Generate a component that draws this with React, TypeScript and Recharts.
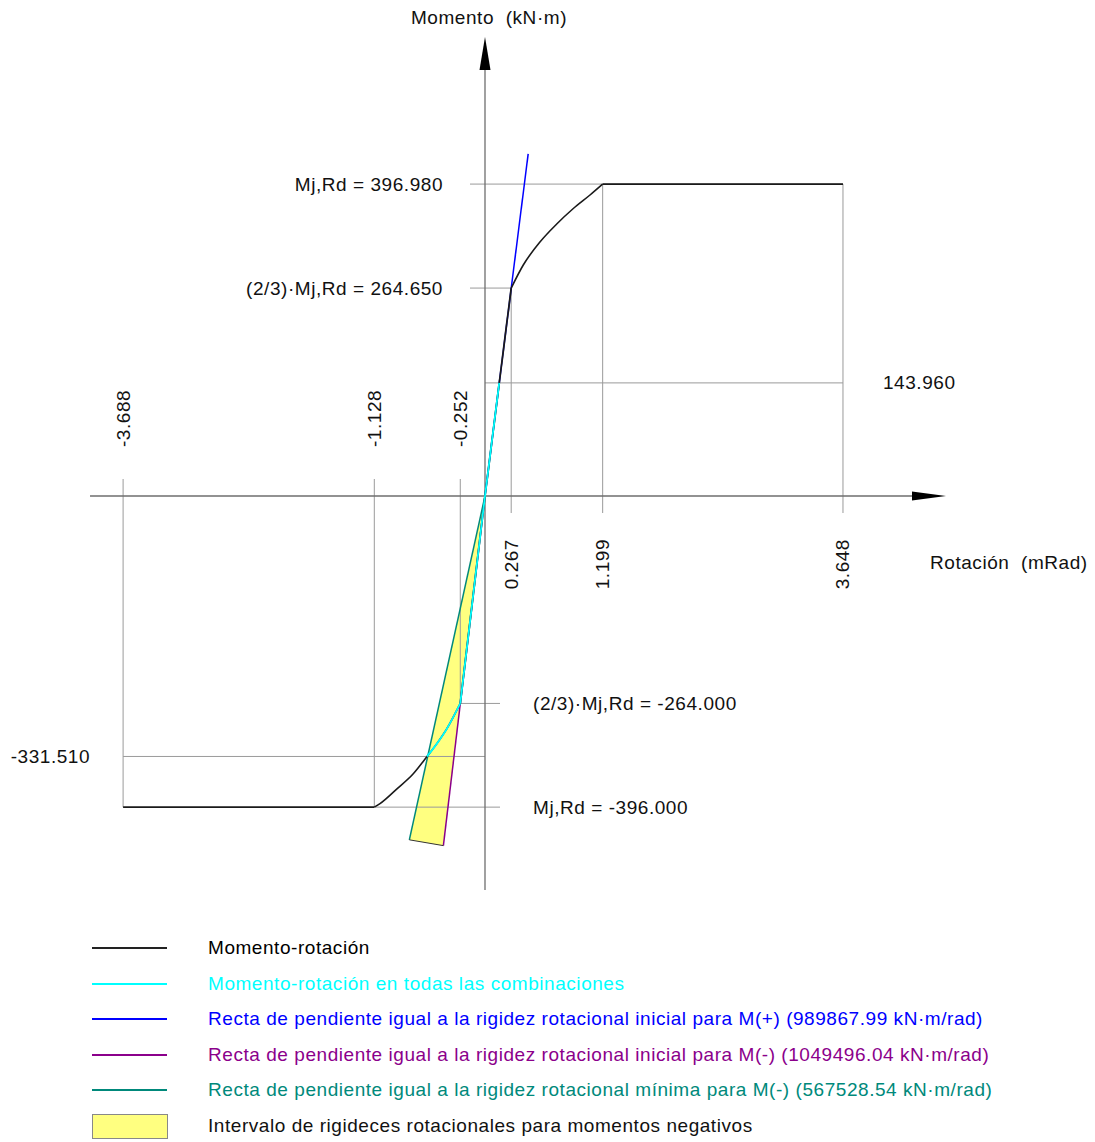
import {
  ComposedChart,
  Area,
  Line,
  XAxis,
  YAxis,
  ReferenceLine,
  ReferenceDot,
} from "recharts";

// rotation values marked on the x axis (mRad)
const rotNeg = [-3.688, -1.128, -0.252];
const rotPos = [0.267, 1.199, 3.648];

// moment levels (kN·m)
const mjRdPos = 396.98;
const mj23Pos = 264.65;
const mAllPos = 143.96;
const mj23Neg = -264.0;
const mAllNeg = -331.51;
const mjRdNeg = -396.0;

// moment-rotation curve
const blackPosLinear = [
  { x: 0, y: 0 },
  { x: 0.267, y: 264.65 },
];
const blackPosCurve = [
  { x: 0.267, y: 264.65 },
  { x: 0.39, y: 294.0 },
  { x: 0.56, y: 323.3 },
  { x: 0.731, y: 346.2 },
  { x: 0.9, y: 365.9 },
  { x: 1.07, y: 383.1 },
  { x: 1.199, y: 396.98 },
];
const blackPosFlat = [
  { x: 1.199, y: 396.98 },
  { x: 3.648, y: 396.98 },
];
const blackNegLinear = [
  { x: -0.252, y: -264.0 },
  { x: 0, y: 0 },
];
const blackNegCurve = [
  { x: -1.128, y: -396.0 },
  { x: -1.07, y: -391.5 },
  { x: -0.9, y: -373.0 },
  { x: -0.731, y: -353.5 },
  { x: -0.591, y: -331.51 },
  { x: -0.492, y: -315.5 },
  { x: -0.39, y: -296.5 },
  { x: -0.252, y: -264.0 },
];
const blackNegFlat = [
  { x: -3.688, y: -396.0 },
  { x: -1.128, y: -396.0 },
];

// all combinations
const cyanLinear = [
  { x: -0.252, y: -264.0 },
  { x: 0, y: 0 },
  { x: 0.145, y: 143.96 },
];
const cyanCurve = [
  { x: -0.591, y: -331.51 },
  { x: -0.492, y: -315.5 },
  { x: -0.39, y: -296.5 },
  { x: -0.252, y: -264.0 },
];

// stiffness lines
const bluePos = [
  { x: 0, y: 0 },
  { x: 0.44, y: 435.5 },
];
const purpleNeg = [
  { x: -0.424, y: -445.0 },
  { x: 0, y: 0 },
];
const tealNeg = [
  { x: -0.771, y: -437.6 },
  { x: 0, y: 0 },
];
const bandBottom = [
  { x: -0.771, y: -437.6 },
  { x: -0.424, y: -445.0 },
];
const bandData = [
  { x: -0.771, band: [-437.6, -437.6] },
  { x: -0.424, band: [-445.0, -240.6] },
  { x: 0, band: [0, 0] },
];

const legendItems = [
  { label: "Momento-rotación", color: "#222222", text: "#000000" },
  { label: "Momento-rotación en todas las combinaciones", color: "#00FFFF", text: "#00FFFF" },
  {
    label: "Recta de pendiente igual a la rigidez rotacional inicial para M(+) (989867.99 kN·m/rad)",
    color: "#0000FF",
    text: "#0000FF",
  },
  {
    label: "Recta de pendiente igual a la rigidez rotacional inicial para M(-) (1049496.04 kN·m/rad)",
    color: "#8B008B",
    text: "#8B008B",
  },
  {
    label: "Recta de pendiente igual a la rigidez rotacional mínima para M(-) (567528.54 kN·m/rad)",
    color: "#00897B",
    text: "#00897B",
  },
];

const W = 1095;
const H = 900;
const PX_PER_ROT = 98.13;
const PX_PER_MOM = 0.7857;
const X0 = 485;
const Y0 = 496;
const xDomain = [-X0 / PX_PER_ROT, (W - X0) / PX_PER_ROT];
const yDomain = [-(H - Y0) / PX_PER_MOM, Y0 / PX_PER_MOM];

const FONT = 'Arial, "Liberation Sans", sans-serif';
const GRID = "#9a9a9a";
const AXIS = "#6e6e6e";
const dx = 15 / PX_PER_ROT;
const dy = 17 / PX_PER_MOM;

const textStyle = {
  fontFamily: FONT,
  fontSize: 19,
  letterSpacing: 0.55,
  fill: "#111",
  whiteSpace: "pre" as const,
};

const makeText =
  (label: string, ox: number, oy: number, anchor: "start" | "middle" | "end", rotate = false) =>
  (p: any) => {
    const tx = p.cx + ox;
    const ty = p.cy + oy;
    return (
      <text
        x={tx}
        y={ty}
        textAnchor={anchor}
        dominantBaseline="central"
        transform={rotate ? `rotate(-90 ${tx} ${ty})` : undefined}
        style={textStyle}
      >
        {label}
      </text>
    );
  };

const yArrow = (p: any) => (
  <polygon points={`${p.cx},${p.cy} ${p.cx - 5.5},${p.cy + 33} ${p.cx + 5.5},${p.cy + 33}`} fill="#000" />
);
const xArrow = (p: any) => (
  <polygon points={`${p.cx},${p.cy} ${p.cx - 34},${p.cy - 4.5} ${p.cx - 34},${p.cy + 4.5}`} fill="#000" />
);

const seg = (x1: number, y1: number, x2: number, y2: number, key: string, stroke = GRID, w = 1) => (
  <ReferenceLine
    key={key}
    segment={[
      { x: x1, y: y1 },
      { x: x2, y: y2 },
    ]}
    stroke={stroke}
    strokeWidth={w}
    ifOverflow="visible"
  />
);

const curve = (data: { x: number; y: number }[], color: string, width: number, type: "linear" | "monotone" = "linear") => (
  <Line
    data={data}
    dataKey="y"
    type={type}
    stroke={color}
    strokeWidth={width}
    dot={false}
    activeDot={false}
    legendType="none"
    isAnimationActive={false}
  />
);

const MomentRotationChart = () => {
  const yTip = (Y0 - 37) / PX_PER_MOM;
  const xTip = (946 - X0) / PX_PER_ROT;
  return (
    <ComposedChart
      width={W}
      height={H}
      data={bandData}
      margin={{ top: 0, right: 0, bottom: 0, left: 0 }}
    >
      <XAxis dataKey="x" type="number" domain={xDomain} allowDataOverflow hide />
      <YAxis type="number" domain={yDomain} allowDataOverflow hide />

      <Area
        type="linear"
        dataKey="band"
        fill="#FFFF80"
        fillOpacity={1}
        stroke="none"
        dot={false}
        activeDot={false}
        isAnimationActive={false}
      />

      {/* guide lines */}
      {seg(-dx, mjRdPos, rotPos[2], mjRdPos, "h1")}
      {seg(-dx, mj23Pos, rotPos[0], mj23Pos, "h2")}
      {seg(0, mAllPos, rotPos[2], mAllPos, "h3")}
      {seg(rotNeg[2], mj23Neg, dx, mj23Neg, "h4")}
      {seg(rotNeg[0], mAllNeg, 0, mAllNeg, "h5")}
      {seg(rotNeg[1], mjRdNeg, dx, mjRdNeg, "h6")}
      {seg(rotNeg[0], dy, rotNeg[0], mjRdNeg, "v1")}
      {seg(rotNeg[1], dy, rotNeg[1], mjRdNeg, "v2")}
      {seg(rotNeg[2], dy, rotNeg[2], mj23Neg, "v3")}
      {seg(rotPos[0], mj23Pos, rotPos[0], -dy, "v4")}
      {seg(rotPos[1], mjRdPos, rotPos[1], -dy, "v5")}
      {seg(rotPos[2], mjRdPos, rotPos[2], -dy, "v6")}

      {/* axes */}
      {seg(-4.025, 0, xTip - 30 / PX_PER_ROT, 0, "ax", AXIS, 1.3)}
      {seg(0, -501.5, 0, yTip - 30 / PX_PER_MOM, "ay", AXIS, 1.3)}
      <ReferenceDot x={0} y={yTip} r={0} shape={yArrow} ifOverflow="visible" />
      <ReferenceDot x={xTip} y={0} r={0} shape={xArrow} ifOverflow="visible" />

      {curve(bluePos, "#0000FF", 1.5)}
      {curve(purpleNeg, "#8B008B", 1.5)}
      {curve(tealNeg, "#00897B", 1.5)}
      {curve(bandBottom, "#333333", 1)}

      {curve(blackPosLinear, "#1a1a1a", 1.8)}
      {curve(blackPosCurve, "#1a1a1a", 1.6, "monotone")}
      {curve(blackPosFlat, "#1a1a1a", 1.8)}
      {curve(blackNegLinear, "#1a1a1a", 1.8)}
      {curve(blackNegCurve, "#1a1a1a", 1.6, "monotone")}
      {curve(blackNegFlat, "#1a1a1a", 1.8)}

      {curve(cyanLinear, "#00FFFF", 1.8)}
      {curve(cyanCurve, "#00FFFF", 1.8, "monotone")}

      {/* labels */}
      <ReferenceDot x={0} y={yTip} r={0} ifOverflow="visible" shape={makeText("Momento  (kN·m)", 4, -20, "middle")} />
      <ReferenceDot x={xTip} y={0} r={0} ifOverflow="visible" shape={makeText("Rotación  (mRad)", -16, 66, "start")} />
      <ReferenceDot x={0} y={mjRdPos} r={0} ifOverflow="visible" shape={makeText("Mj,Rd = 396.980", -42, 0, "end")} />
      <ReferenceDot x={0} y={mj23Pos} r={0} ifOverflow="visible" shape={makeText("(2/3)·Mj,Rd = 264.650", -42, 0, "end")} />
      <ReferenceDot x={rotPos[2]} y={mAllPos} r={0} ifOverflow="visible" shape={makeText("143.960", 40, 0, "start")} />
      <ReferenceDot x={0} y={mj23Neg} r={0} ifOverflow="visible" shape={makeText("(2/3)·Mj,Rd = -264.000", 48, 0, "start")} />
      <ReferenceDot x={0} y={mjRdNeg} r={0} ifOverflow="visible" shape={makeText("Mj,Rd = -396.000", 48, 0, "start")} />
      <ReferenceDot x={rotNeg[0]} y={mAllNeg} r={0} ifOverflow="visible" shape={makeText("-331.510", -33, 0, "end")} />
      {rotNeg.map((v) => (
        <ReferenceDot key={`n${v}`} x={v} y={0} r={0} ifOverflow="visible" shape={makeText(v.toFixed(3), 0, -49, "start", true)} />
      ))}
      {rotPos.map((v) => (
        <ReferenceDot key={`p${v}`} x={v} y={0} r={0} ifOverflow="visible" shape={makeText(v.toFixed(3), 0, 43, "end", true)} />
      ))}
    </ComposedChart>
  );
};

const Legend = () => (
  <div style={{ position: "absolute", left: 0, top: 930, width: W, fontFamily: FONT, fontSize: 19, letterSpacing: 0.55 }}>
    {legendItems.map((it, i) => (
      <div key={it.label} style={{ position: "absolute", top: i * 35.5, left: 0, height: 36, width: W }}>
        <div style={{ position: "absolute", left: 92, top: 17, width: 75, height: 2, background: it.color }} />
        <div style={{ position: "absolute", left: 208, top: 6, lineHeight: "24px", color: it.text, whiteSpace: "nowrap" }}>
          {it.label}
        </div>
      </div>
    ))}
    <div style={{ position: "absolute", top: 5 * 35.5, left: 0, height: 36, width: W }}>
      <div style={{ position: "absolute", left: 92, top: 6, width: 74, height: 23, background: "#FFFF80", border: "1px solid #888" }} />
      <div style={{ position: "absolute", left: 208, top: 6, lineHeight: "24px", color: "#111", whiteSpace: "nowrap" }}>
        Intervalo de rigideces rotacionales para momentos negativos
      </div>
    </div>
  </div>
);

export default function App() {
  return (
    <div style={{ position: "absolute", left: 0, top: 0, width: W, height: 1142, background: "#fff" }}>
      <MomentRotationChart />
      <Legend />
    </div>
  );
}
